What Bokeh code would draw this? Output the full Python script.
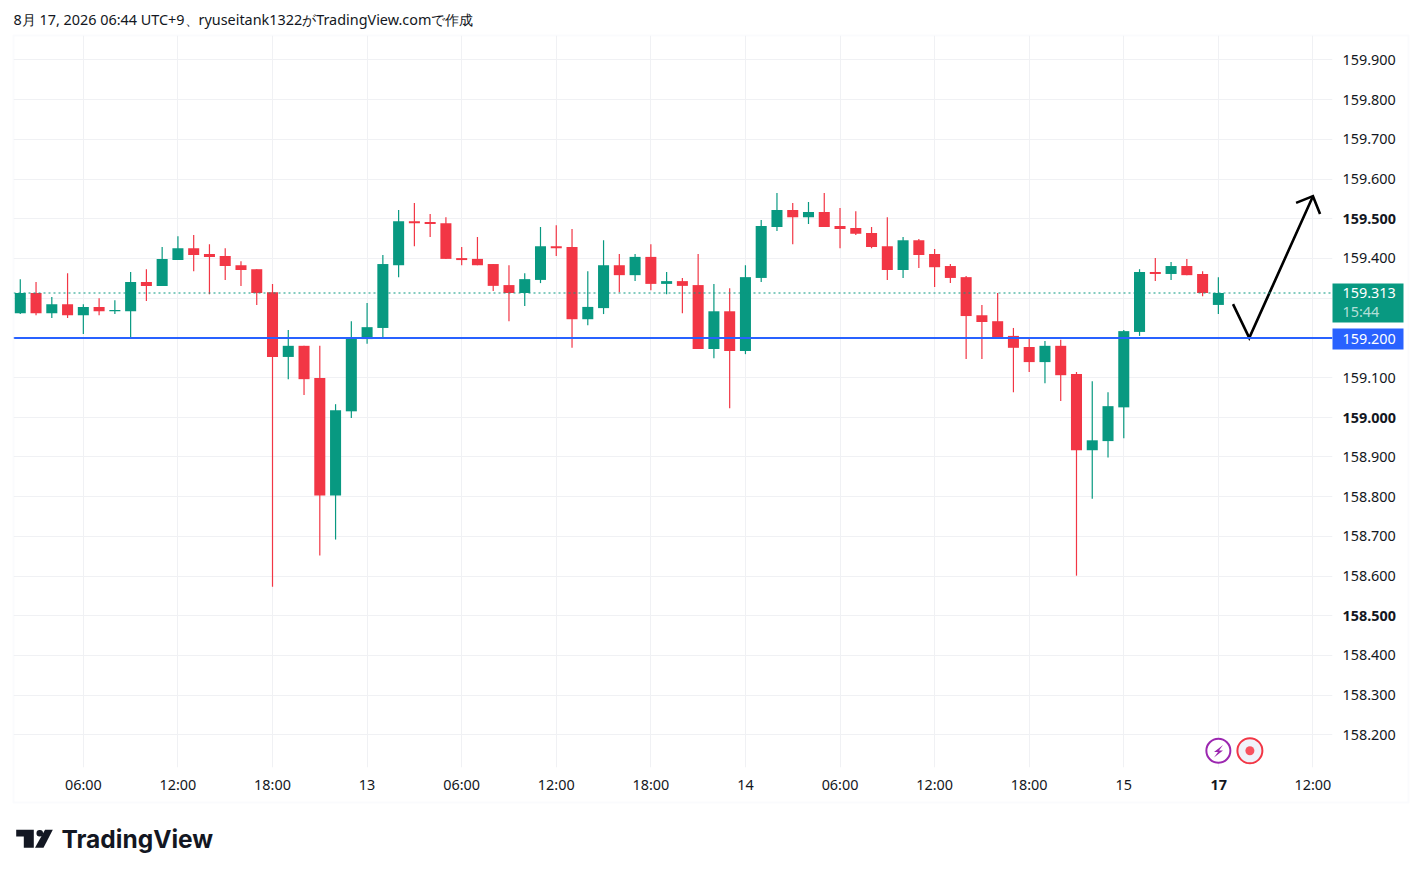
from bokeh.plotting import figure
from bokeh.layouts import column
from bokeh.models import (ColumnDataSource, Range1d, FixedTicker, Label, Span, BoxAnnotation,
                          PolyAnnotation)
from bokeh.embed import file_html
from bokeh.resources import INLINE

opens = [159.262,159.313,159.262,159.285,159.257,159.278,159.267,159.267,159.341,159.331,
         159.396,159.426,159.411,159.406,159.383,159.373,159.315,159.152,159.180,159.099,
         158.803,159.015,159.197,159.225,159.383,159.494,159.492,159.489,159.401,159.399,
         159.386,159.333,159.313,159.346,159.431,159.429,159.247,159.275,159.383,159.358,
         159.404,159.336,159.343,159.333,159.172,159.267,159.167,159.351,159.479,159.522,
         159.504,159.517,159.482,159.477,159.464,159.431,159.371,159.446,159.411,159.381,
         159.353,159.257,159.242,159.205,159.177,159.139,159.180,159.109,158.917,158.940,
         159.025,159.215,159.366,159.361,159.381,159.361,159.283]
closes = [159.313,159.262,159.285,159.257,159.278,159.267,159.270,159.341,159.331,159.399,
          159.426,159.409,159.404,159.381,159.371,159.313,159.152,159.180,159.096,158.803,
          159.018,159.200,159.227,159.386,159.494,159.489,159.487,159.399,159.396,159.383,
          159.331,159.313,159.348,159.431,159.426,159.247,159.278,159.383,159.358,159.404,
          159.336,159.343,159.331,159.172,159.267,159.167,159.353,159.482,159.522,159.504,
          159.517,159.479,159.474,159.462,159.429,159.371,159.446,159.409,159.378,159.351,
          159.255,159.240,159.202,159.175,159.139,159.180,159.106,158.917,158.942,159.028,
          159.217,159.366,159.361,159.381,159.358,159.313,159.313]
highs = [159.348,159.341,159.303,159.363,159.285,159.300,159.295,159.366,159.373,159.429,
         159.456,159.459,159.436,159.426,159.393,159.373,159.336,159.220,159.180,159.180,
         159.033,159.242,159.288,159.409,159.522,159.540,159.512,159.504,159.429,159.454,
         159.386,159.383,159.363,159.479,159.484,159.474,159.368,159.446,159.411,159.411,
         159.436,159.366,159.351,159.411,159.336,159.325,159.383,159.497,159.565,159.540,
         159.542,159.565,159.527,159.519,159.479,159.504,159.454,159.449,159.424,159.386,
         159.356,159.283,159.313,159.225,159.200,159.192,159.195,159.114,159.091,159.063,
         159.220,159.373,159.401,159.391,159.399,159.368,159.353]
lows = [159.260,159.257,159.250,159.250,159.210,159.257,159.260,159.200,159.293,159.331,
        159.396,159.368,159.310,159.346,159.331,159.283,158.573,159.096,159.056,158.652,
        158.692,158.998,159.185,159.200,159.353,159.431,159.454,159.399,159.383,159.383,
        159.318,159.242,159.280,159.338,159.406,159.175,159.232,159.260,159.315,159.343,
        159.320,159.310,159.262,159.172,159.149,159.023,159.159,159.341,159.469,159.436,
        159.487,159.479,159.426,159.459,159.426,159.346,159.351,159.376,159.328,159.338,
        159.147,159.147,159.197,159.063,159.114,159.086,159.041,158.601,158.795,158.899,
        158.947,159.205,159.343,159.346,159.358,159.305,159.260]

price_ticks = [158.2,158.3,158.4,158.5,158.6,158.7,158.8,158.9,159.0,159.1,
               159.2,159.3,159.4,159.5,159.6,159.7,159.8,159.9]
bold_prices = [158.5,159.0,159.5]
time_ticks = [4,10,16,22,28,34,40,46,52,58,64,70,76,82]
time_labels = ["06:00","12:00","18:00","13","06:00","12:00","18:00","14",
               "06:00","12:00","18:00","15","17","12:00"]
bold_time = 76

last_price = 159.313
alert_price = 159.200
countdown = "15:44"
arrow_x = [76.93,77.96,82.0]
arrow_y = [159.285,159.200,159.557]
head_x = [80.93,82.0,82.45]
head_y = [159.540,159.557,159.512]
icon_x = [76,78]
icon_y = [158.16,158.16]
caption = "8月 17, 2026 06:44 UTC+9、ryuseitank1322がTradingView.comで作成"

GREEN = "#089981"; RED = "#F23645"; BLUE = "#2962FF"; GRID = "#F0F1F4"; TXT = "#131722"
FONT = "Noto Sans"; FS = "14.4px"
W, H = 1415, 870

idx = list(range(len(opens)))
src = ColumnDataSource(dict(x=idx, o=opens, c=closes, h=highs, l=lows,
                            top=[max(a,b) for a,b in zip(opens,closes)],
                            bot=[min(a,b) for a,b in zip(opens,closes)],
                            color=[GREEN if c>=o else RED for o,c in zip(opens,closes)]))

p = figure(width=W, height=H, output_backend="svg", toolbar_location=None,
           x_range=Range1d(-0.43,83.24), y_range=Range1d(158.1178,159.9617),
           x_axis_location="below", y_axis_location="right", frame_align=False,
           min_border_left=13, min_border_right=83, min_border_top=35, min_border_bottom=103)
p.outline_line_color=None
p.background_fill_color="white"

p.xaxis.ticker=FixedTicker(ticks=time_ticks)
p.xaxis.major_label_overrides={t:("" if t==bold_time else l) for t,l in zip(time_ticks,time_labels)}
p.yaxis.ticker=FixedTicker(ticks=price_ticks)
p.yaxis.major_label_overrides={t:("" if t in bold_prices else f"{t:.3f}") for t in price_ticks}
for ax in (p.xaxis[0],p.yaxis[0]):
    ax.axis_line_color=None
    ax.major_tick_line_color=None
    ax.minor_tick_line_color=None
    ax.major_tick_out=0
    ax.major_tick_in=0
    ax.minor_tick_out=0
    ax.minor_tick_in=0
    ax.major_label_text_font=FONT
    ax.major_label_text_font_size=FS
    ax.major_label_text_color=TXT
p.yaxis.major_label_standoff=10
p.xaxis.major_label_standoff=7
p.xgrid.ticker=FixedTicker(ticks=time_ticks)
p.ygrid.ticker=FixedTicker(ticks=price_ticks)
p.xgrid.grid_line_color=GRID
p.ygrid.grid_line_color=GRID

p.segment("x","h","x","l",source=src,color="color",line_width=1.2)
p.vbar(x="x",top="top",bottom="bot",width=0.7,fill_color="color",line_color=None,source=src)

p.add_layout(Span(location=last_price,dimension="width",line_color=GREEN,line_dash="2 3",line_width=1.2))
p.add_layout(Span(location=alert_price,dimension="width",line_color=BLUE,line_width=2))

p.line(arrow_x,arrow_y,color="black",line_width=2.6,line_join="miter")
p.line(head_x,head_y,color="black",line_width=2.6,line_join="miter")

p.scatter(icon_x[:1],icon_y[:1],size=24,fill_color="white",line_color="#9C27B0",line_width=2)
p.scatter(icon_x[1:],icon_y[1:],size=25,fill_color="#F0F3FA",line_color="#F23645",line_width=2)
p.scatter(icon_x[1:],icon_y[1:],size=9,fill_color="#F7525F",line_color=None)

# transparent overlay covering the whole page, same scales as the chart, for everything outside the frame
ov = figure(width=W, height=H, output_backend="svg", toolbar_location=None,
            x_range=Range1d(-1.284,88.478), y_range=Range1d(157.8597,160.05113),
            x_axis_type=None, y_axis_type=None, margin=(-H,0,0,0), frame_align=False,
            min_border_left=0, min_border_right=0, min_border_top=0, min_border_bottom=0)
ov.outline_line_color=None
ov.background_fill_alpha=0
ov.border_fill_alpha=0

def lab(text,x,y,size=FS,color=TXT,bold=False,xu="canvas",yu="canvas",align="left",base="middle",font=FONT,alpha=1.0):
    ov.add_layout(Label(x=x,y=y,x_units=xu,y_units=yu,text=text,text_font=font,text_font_size=size,
                        text_color=color,text_alpha=alpha,text_align=align,text_baseline=base,
                        text_font_style="bold" if bold else "normal"))

def box(l,r,t,b,**kw):
    ov.add_layout(BoxAnnotation(left=l,right=r,top=t,bottom=b,left_units="canvas",right_units="canvas",
                                top_units="canvas",bottom_units="canvas",**kw))

for t in bold_prices:
    lab(f"{t:.3f}",1342,t,bold=True,yu="data")
lab(time_labels[time_ticks.index(bold_time)],bold_time,784,bold=True,xu="data",align="center")

box(13,1408,35,802,fill_alpha=0,line_color="#F0F3FA",line_width=2)
box(1332,1403,283,322,fill_color=GREEN,fill_alpha=1,line_color=None)
box(1332,1403,328,349,fill_color=BLUE,fill_alpha=1,line_color=None)
lab(f"{last_price:.3f}",1342,292.5,color="white")
lab(countdown,1342,311,color="white",alpha=0.7)
lab(f"{alert_price:.3f}",1342,338.5,color="white")

lab(caption,13,18.5)
lab("TradingView",61,838.5,size="24.5px",bold=True,font="Inter",color="#131722")
def poly(pts,color):
    ov.add_layout(PolyAnnotation(xs=[a for a,b in pts],ys=[b for a,b in pts],xs_units="canvas",ys_units="canvas",
                                 fill_color=color,fill_alpha=1,line_color=None))
poly([(15.7,829.3),(33.3,829.3),(33.3,847.3),(23.3,847.3),(23.3,836),(15.7,836)],"#131722")
poly([(52.3,829.3),(44.5,829.3),(34.5,847.3),(43,847.3)],"#131722")
box(36,42.5,829.5,836,fill_color="#131722",fill_alpha=1,line_color=None,border_radius=3)
poly([(1222.5,744.5),(1213.5,751.5),(1217.5,751.5),(1213.5,757),(1222.5,750),(1218.5,750)],"#9C27B0")

open("out.html","w").write(file_html(column(p,ov,spacing=0),INLINE))
